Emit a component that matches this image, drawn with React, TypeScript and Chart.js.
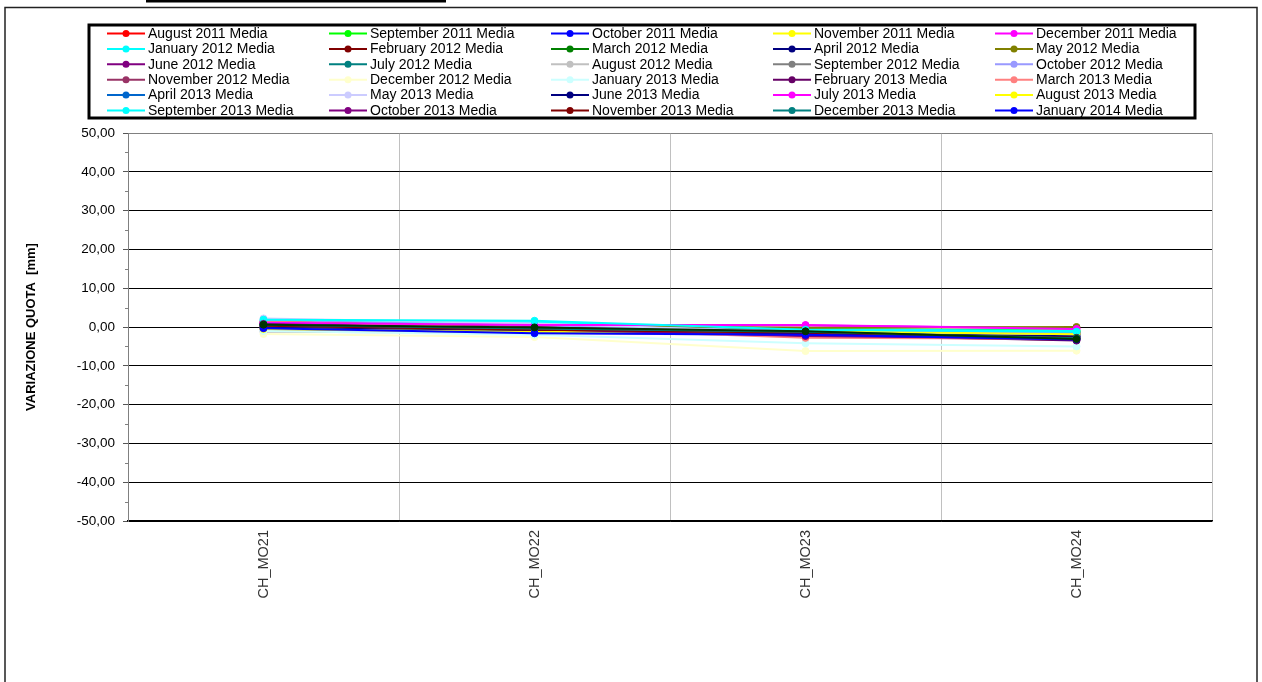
import React, { useEffect, useRef } from 'react';
import { Chart, registerables } from 'chart.js';

Chart.register(...registerables);

const FONT = "'Liberation Sans', Arial, sans-serif";

const categories = ['CH_MO21', 'CH_MO22', 'CH_MO23', 'CH_MO24'];

const yMin = -50;
const yMax = 50;
const yStep = 10;
const yTitle = 'VARIAZIONE QUOTA  [mm]';

// Series values (mm) per category
const aug2011 = [0.0, -0.3, -0.8, -1.2];
const sep2011 = [0.3, 0.2, -0.5, -0.9];
const oct2011 = [-0.6, -1.0, -1.5, -2.0];
const nov2011 = [-0.4, -0.6, -1.0, -1.5];
const dec2011 = [1.2, 0.6, 0.4, -0.3];
const jan2012 = [1.5, 1.2, -0.6, -1.0];
const feb2012 = [0.6, -0.1, -1.2, -1.8];
const mar2012 = [0.4, 0.0, -0.9, -1.4];
const apr2012 = [0.2, -0.4, -1.6, -2.3];
const may2012 = [0.8, 0.3, -0.2, 0.0];
const jun2012 = [1.0, 0.1, -1.8, -2.6];
const jul2012 = [0.5, -0.5, -1.3, -2.0];
const aug2012 = [-1.2, -1.5, -2.2, -2.8];
const sep2012 = [0.1, -0.8, -1.9, -2.5];
const oct2012 = [1.6, 0.4, -1.0, -1.6];
const nov2012 = [1.3, 0.0, -2.4, -3.3];
const dec2012 = [-1.8, -2.6, -6.2, -6.1];
const jan2013 = [-1.0, -2.0, -4.2, -5.0];
const feb2013 = [0.9, -0.2, -2.0, -3.5];
const mar2013 = [1.4, -0.3, -2.8, -3.0];
const apr2013 = [0.7, -0.9, -2.1, -2.7];
const may2013 = [2.2, 0.9, -1.4, -2.2];
const jun2013 = [-0.2, -1.1, -1.7, -2.4];
const jul2013 = [1.1, 0.5, 0.5, -0.5];
const aug2013 = [-0.5, -1.3, -1.1, -1.9];
const sep2013 = [1.9, 1.6, -0.7, -1.2];
const oct2013 = [0.8, -0.6, -2.3, -3.0];
const nov2013 = [0.3, -0.7, -1.5, -2.8];
const dec2013 = [0.6, -0.4, -1.2, -2.9];
const jan2014 = [-0.3, -1.6, -2.0, -3.2];
const feb2014 = [0.6, -0.1, -1.1, -3.1];

const seriesNames = [
  'August 2011 Media', 'September 2011 Media', 'October 2011 Media', 'November 2011 Media', 'December 2011 Media',
  'January 2012 Media', 'February 2012 Media', 'March 2012 Media', 'April 2012 Media', 'May 2012 Media',
  'June 2012 Media', 'July 2012 Media', 'August 2012 Media', 'September 2012 Media', 'October 2012 Media',
  'November 2012 Media', 'December 2012 Media', 'January 2013 Media', 'February 2013 Media', 'March 2013 Media',
  'April 2013 Media', 'May 2013 Media', 'June 2013 Media', 'July 2013 Media', 'August 2013 Media',
  'September 2013 Media', 'October 2013 Media', 'November 2013 Media', 'December 2013 Media', 'January 2014 Media',
  'February 2014 Media',
];

const seriesColors = [
  '#FF0000', '#00FF00', '#0000FF', '#FFFF00', '#FF00FF',
  '#00FFFF', '#800000', '#008000', '#000080', '#808000',
  '#800080', '#008080', '#C0C0C0', '#808080', '#9999FF',
  '#993366', '#FFFFCC', '#CCFFFF', '#660066', '#FF8080',
  '#0066CC', '#CCCCFF', '#000080', '#FF00FF', '#FFFF00',
  '#00FFFF', '#800080', '#800000', '#008080', '#0000FF',
  '#003300',
];

const seriesValues = [
  aug2011, sep2011, oct2011, nov2011, dec2011,
  jan2012, feb2012, mar2012, apr2012, may2012,
  jun2012, jul2012, aug2012, sep2012, oct2012,
  nov2012, dec2012, jan2013, feb2013, mar2013,
  apr2013, may2013, jun2013, jul2013, aug2013,
  sep2013, oct2013, nov2013, dec2013, jan2014,
  feb2014,
];

const legendCount = 30;
const legendColumns = 5;

const decorPlugin = {
  id: 'decor',
  beforeDraw(chart: any) {
    const { ctx, width, height } = chart;
    ctx.save();
    ctx.fillStyle = '#ffffff';
    ctx.fillRect(0, 0, width, height);
    ctx.restore();
  },
  afterDraw(chart: any) {
    const { ctx } = chart;
    ctx.save();
    // top bar
    ctx.fillStyle = '#000';
    ctx.fillRect(146, 0, 300, 2.5);
    // outer frame
    ctx.strokeStyle = '#222';
    ctx.lineWidth = 1.5;
    ctx.strokeRect(5, 7.5, 1252, 700);
    // minor ticks on y axis
    const y = chart.scales.y;
    const left = chart.chartArea.left;
    ctx.strokeStyle = '#808080';
    ctx.lineWidth = 1;
    for (let v = yMin + yStep / 2; v < yMax; v += yStep) {
      const py = Math.round(y.getPixelForValue(v)) + 0.5;
      ctx.beginPath();
      ctx.moveTo(left - 3, py);
      ctx.lineTo(left, py);
      ctx.stroke();
    }
    // legend box
    const bx = 89, by = 25, bw = 1106, bh = 93;
    ctx.strokeStyle = '#000';
    ctx.lineWidth = 3;
    ctx.strokeRect(bx, by, bw, bh);
    ctx.font = `14px ${FONT}`;
    ctx.textBaseline = 'middle';
    ctx.textAlign = 'left';
    for (let i = 0; i < legendCount; i++) {
      const ds = chart.data.datasets[i];
      const col = i % legendColumns;
      const row = Math.floor(i / legendColumns);
      const x0 = 107 + col * 222;
      const yy = 33.5 + row * 15.4;
      ctx.strokeStyle = ds.borderColor;
      ctx.lineWidth = 2;
      ctx.beginPath();
      ctx.moveTo(x0, yy);
      ctx.lineTo(x0 + 38, yy);
      ctx.stroke();
      ctx.fillStyle = ds.borderColor;
      ctx.beginPath();
      ctx.arc(x0 + 19, yy, 3.5, 0, Math.PI * 2);
      ctx.fill();
      ctx.fillStyle = '#000';
      ctx.fillText(ds.label, x0 + 41, yy + 0.5);
    }
    ctx.restore();
  },
};

export default function App() {
  const canvasRef = useRef<HTMLCanvasElement | null>(null);

  useEffect(() => {
    if (!canvasRef.current) return;
    const datasets = seriesValues.map((vals, i) => ({
      label: seriesNames[i],
      data: vals,
      borderColor: seriesColors[i],
      backgroundColor: seriesColors[i],
      pointBackgroundColor: seriesColors[i],
      pointBorderColor: seriesColors[i],
      borderWidth: 2,
      pointRadius: 3.5,
      pointBorderWidth: 1,
      tension: 0,
      order: -i,
    }));
    const chart = new Chart(canvasRef.current, {
      type: 'line',
      data: { labels: categories, datasets },
      options: {
        animation: false,
        responsive: false,
        maintainAspectRatio: false,
        layout: { padding: { top: 133, right: 50, bottom: 0, left: 0 } },
        plugins: {
          legend: { display: false },
          tooltip: { enabled: false },
        },
        scales: {
          x: {
            type: 'category',
            offset: true,
            grid: { offset: true, color: '#c0c0c0', drawTicks: false, lineWidth: 1 },
            border: { color: '#000', width: 1.5 },
            ticks: {
              autoSkip: false,
              minRotation: 90,
              maxRotation: 90,
              color: '#333',
              padding: 9,
              font: { family: FONT, size: 14.5 },
            },
            afterFit: (s: any) => { s.height = 161; },
          },
          y: {
            min: yMin,
            max: yMax,
            ticks: {
              stepSize: yStep,
              color: '#000',
              padding: 8,
              font: { family: FONT, size: 13.5 },
              callback: (v: any) => Number(v).toFixed(2).replace('.', ','),
            },
            grid: {
              color: (c: any) => (c.tick && c.tick.value === yMax ? '#808080' : '#000'),
              lineWidth: 1,
              tickLength: 5,
              tickColor: '#555',
            },
            border: { color: '#808080', width: 1 },
            title: {
              display: true,
              text: yTitle,
              color: '#000',
              font: { family: FONT, size: 13, weight: 'bold' },
              padding: { top: 24, bottom: 0 },
            },
            afterFit: (s: any) => { s.width = 128; },
          },
        },
      },
      plugins: [decorPlugin],
    });
    return () => chart.destroy();
  }, []);

  return (
    <div style={{ position: 'fixed', left: 0, top: 0, width: 1262, height: 682, background: '#fff' }}>
      <canvas ref={canvasRef} width={1262} height={682} style={{ width: 1262, height: 682, display: 'block' }} />
    </div>
  );
}
